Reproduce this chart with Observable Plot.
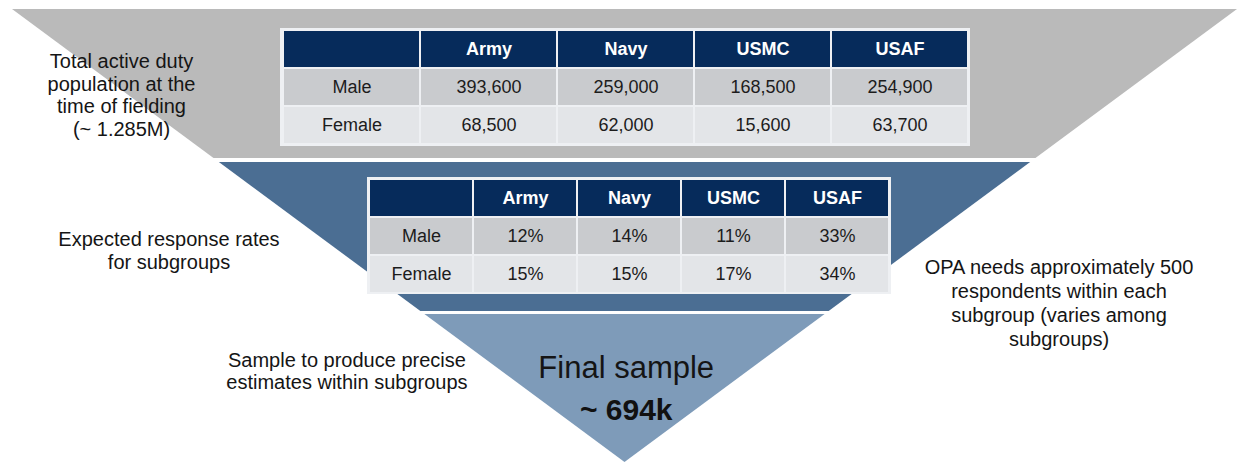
<!DOCTYPE html>
<html><head><meta charset="utf-8">
<script src="https://cdn.jsdelivr.net/npm/d3@7"></script>
<script src="https://cdn.jsdelivr.net/npm/@observablehq/plot@0.6"></script>
<style>
html,body{margin:0;padding:0;background:#fff;}
#chart{position:relative;width:1238px;height:462px;overflow:hidden;font-family:"Liberation Sans",Arial,sans-serif;}
#chart svg{position:absolute;}
</style></head><body><div id="chart"></div>
<script>
// ---------------- data ----------------
const services = ["Army", "Navy", "USMC", "USAF"];
const genders = ["Male", "Female"];
const populationMale = [393600, 259000, 168500, 254900];
const populationFemale = [68500, 62000, 15600, 63700];
const responseRateMale = [12, 14, 11, 33];
const responseRateFemale = [15, 15, 17, 34];
const stageNames = ["Population", "Response", "Sample"];
const stageLabels = [
  "Total active duty\npopulation at the\ntime of fielding\n(~ 1.285M)",
  "Expected response rates\nfor subgroups",
  "Sample to produce precise\nestimates within subgroups"
];
const noteLabel = "OPA needs approximately 500\nrespondents within each\nsubgroup (varies among\nsubgroups)";
const finalSampleTitle = "Final sample";
const finalSampleValue = "~ 694k";

// ---------------- style / layout ----------------
const stageColors = ["#bababa", "#4b6e93", "#7e9bb9"];
const navy = "#062b5b", maleFill = "#c9cbce", femaleFill = "#e3e5e8";
const font = "'Liberation Sans', Arial, sans-serif";
// funnel depth (0 = top, 1 = apex) covered by each stage band
const stageTop = [0, 0.3377, 0.6733];
const stageBottom = [0.329, 0.6667, 1];
// label anchors in funnel units (x: -1..1 across the top, y: depth)
const stageLabelX = [-0.822, -0.7445, -0.454];
const stageLabelDepth = [0.1885, 0.532, 0.798];
const stageLabelLine = [1.125, 1.15, 1.1];

// ---------------- funnel ----------------
const bandPoints = stageNames.flatMap((s, i) => [stageTop[i], stageBottom[i]].map(d => ({
  stage: s, depth: d, left: -(1 - d), right: 1 - d
})));
const labels = stageLabels.map((t, i) => ({text: t, x: stageLabelX[i], d: stageLabelDepth[i], lh: stageLabelLine[i]}));

const funnel = Plot.plot({
  width: 1238, height: 462, margin: 0,
  x: {domain: [-1, 1], range: [12, 1237], axis: null},
  y: {domain: [0, 1], range: [9, 462], axis: null},
  color: {domain: stageNames, range: stageColors},
  style: {background: "#fff", fontFamily: font},
  marks: [
    Plot.areaX(bandPoints, {y: "depth", x1: "left", x2: "right", z: "stage", fill: "stage", curve: "linear"}),
    ...labels.map(l => Plot.text([l], {x: "x", y: "d", text: "text", fontSize: 20, lineHeight: l.lh, fill: "#151515"})),
    Plot.text([noteLabel], {x: 0.7086, y: 0.646, text: d => d, fontSize: 20, lineHeight: 1.2, fill: "#151515"}),
    Plot.text([finalSampleTitle], {x: 0.002, y: 0.7925, text: d => d, fontSize: 31, fill: "#151515"}),
    Plot.text([finalSampleValue], {x: 0.002, y: 0.886, text: d => d, fontSize: 30, fontWeight: "bold", fill: "#111"})
  ]
});
funnel.style.left = "0px"; funnel.style.top = "0px";
document.getElementById("chart").appendChild(funnel);

// ---------------- tables ----------------
function tableCells(rows, fmt) {
  const cells = [{row: "header", col: "label", kind: "header", text: ""}];
  services.forEach(s => cells.push({row: "header", col: s, kind: "header", text: s}));
  genders.forEach((g, i) => {
    cells.push({row: g, col: "label", kind: g, text: g});
    services.forEach((s, j) => cells.push({row: g, col: s, kind: g, text: fmt(rows[i][j])}));
  });
  return cells;
}
function drawTable(cells, left, top, width, height) {
  const svg = Plot.plot({
    width, height, margin: 1,
    x: {domain: ["label", ...services], padding: 0, axis: null},
    y: {domain: ["header", ...genders], padding: 0, axis: null},
    color: {domain: ["header", ...genders], range: [navy, maleFill, femaleFill]},
    style: {background: "#eef0f3", fontFamily: font},
    marks: [
      Plot.cell(cells, {x: "col", y: "row", fill: "kind", inset: 1}),
      Plot.text(cells.filter(d => d.kind === "header"), {x: "col", y: "row", text: "text", fill: "white", fontWeight: "bold", fontSize: 18}),
      Plot.text(cells.filter(d => d.kind !== "header"), {x: "col", y: "row", text: "text", fill: "#1c1c1c", fontSize: 18})
    ]
  });
  svg.style.left = left + "px"; svg.style.top = top + "px";
  document.getElementById("chart").appendChild(svg);
}
drawTable(tableCells([populationMale, populationFemale], d3.format(",")), 280, 28, 690, 118);
drawTable(tableCells([responseRateMale, responseRateFemale], v => v + "%"), 367, 177, 524, 117);
</script></body></html>
